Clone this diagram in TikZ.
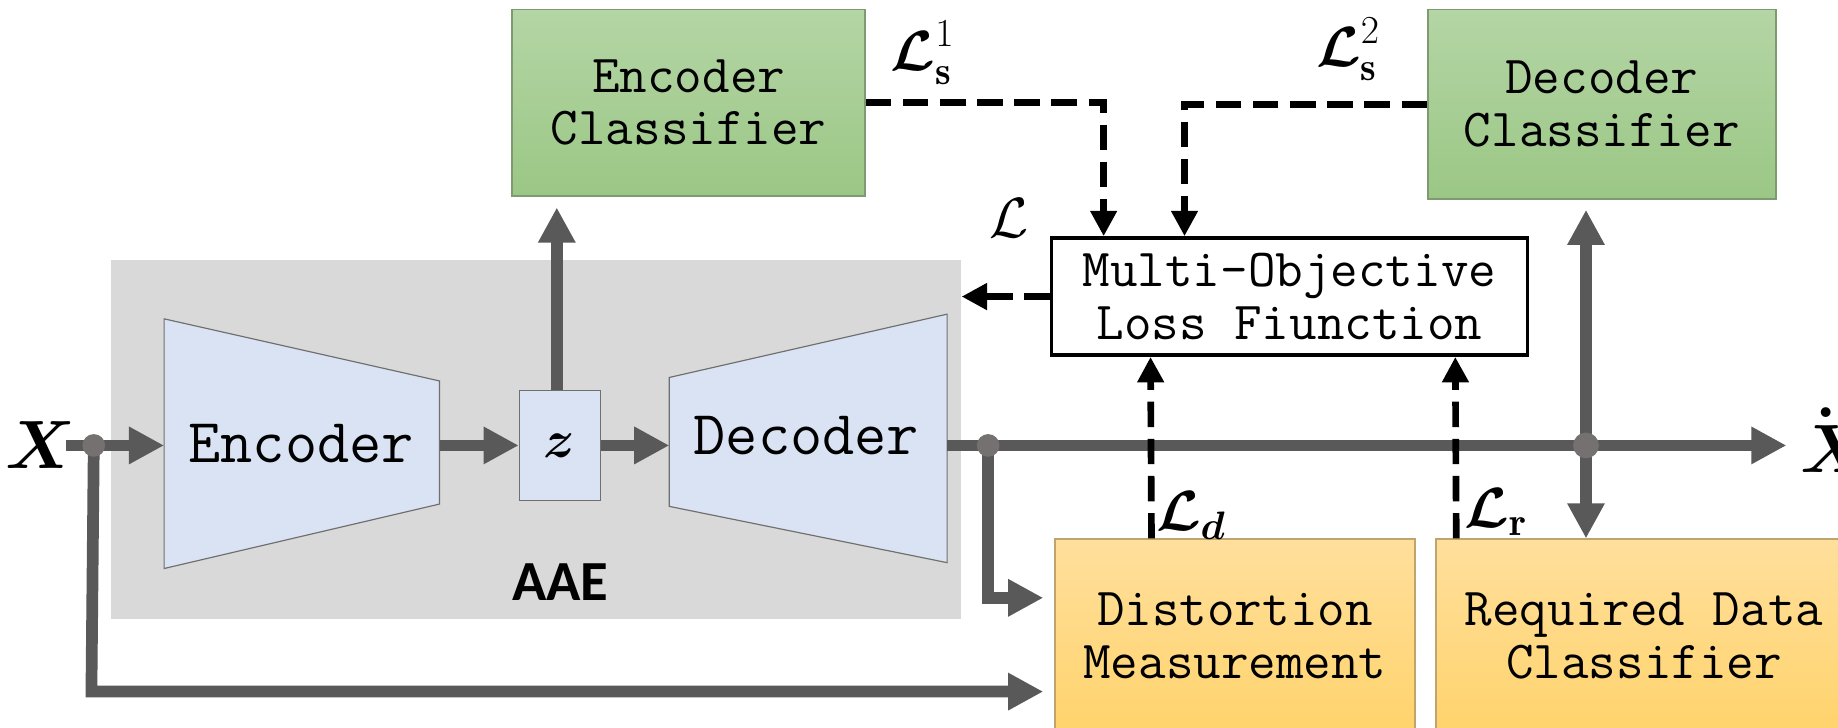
\RequirePackage{fix-cm}
\documentclass[tikz,border=0pt]{standalone}
\usepackage{amsmath,amssymb,bm}
\usepackage{fontspec}
\newfontfamily\aaefont{Carlito}
\usetikzlibrary{arrows.meta,calc}

\definecolor{bggray}{HTML}{D9D9D9}
\definecolor{flowgray}{HTML}{595959}
\definecolor{dotgray}{HTML}{767171}
\definecolor{trapfill}{HTML}{DAE3F3}
\definecolor{trapline}{HTML}{6F6F6F}
\definecolor{greentop}{HTML}{B4D5A5}
\definecolor{greenbot}{HTML}{9BC785}
\definecolor{greenline}{HTML}{7F9A72}
\definecolor{orangetop}{HTML}{FFDF9C}
\definecolor{orangebot}{HTML}{FFD36C}
\definecolor{orangeline}{HTML}{C0A46C}

\tikzset{
  boxtext/.style={font=\fontsize{27.4}{27}\selectfont\ttfamily, align=center, inner sep=0pt},
  greenbox/.style={boxtext, draw=greenline, line width=0.8pt, top color=greentop, bottom color=greenbot},
  orangebox/.style={boxtext, draw=orangeline, line width=0.8pt, top color=orangetop, bottom color=orangebot},
  trap/.style={draw=trapline, line width=0.6pt, fill=trapfill},
  flow/.style={draw=flowgray, line width=6pt, -{Triangle[length=18pt,width=18pt]}},
  loss/.style={draw=black, line width=3.4pt, dash pattern=on 13pt off 6pt, -{Triangle[length=13pt,width=13pt]}},
  mathlbl/.style={font=\fontsize{29}{30}\selectfont, inner sep=0pt},
  joint/.style={fill=dotgray}
}

\begin{document}
\begin{tikzpicture}[x=0.6pt,y=-0.6pt]
\useasboundingbox (0,0) rectangle (1568,621);
\clip (0,0) rectangle (1568,621);
\fill[white] (0,0) rectangle (1568,621);

% autoencoder background
\node[fill=bggray, inner sep=0pt, minimum width=435pt, minimum height=183.6pt] (aae) at (457.5,375) {};
\node[font=\fontsize{29}{30}\selectfont\aaefont\bfseries, inner sep=0pt] (aaelbl) at (478,497) {AAE};

% encoder and decoder
\draw[trap] (140,272) -- (375,325) -- (375,430) -- (140,485) -- cycle;
\draw[trap] (571,322) -- (808,268) -- (808,480) -- (571,432) -- cycle;
\node[font=\fontsize{32}{30}\selectfont\ttfamily, inner sep=0pt] (enc) at (257,378) {Encoder};
\node[font=\fontsize{32}{30}\selectfont\ttfamily, inner sep=0pt] (dec) at (688,372) {Decoder};
\coordinate (encIn) at (140,380);
\coordinate (encOut) at (375,380);
\coordinate (decIn) at (571,380);
\coordinate (decOut) at (808,380);

% latent code
\node[trap, minimum width=41.4pt, minimum height=56.4pt, inner sep=0pt,
      font=\fontsize{27}{28}\selectfont] (z) at (477.5,380) {$\boldsymbol{z}$};

% classifiers and measurement blocks
\node[greenbox, minimum width=180.6pt, minimum height=95.4pt] (encC) at (587.5,87.5) {Encoder\\Classifier};
\node[greenbox, minimum width=178.2pt, minimum height=97.2pt] (decC) at (1366.5,89) {Decoder\\Classifier};
\node[orangebox, minimum width=184.2pt, minimum height=99pt] (dist) at (1053.5,542.5) {Distortion\\Measurement};
\node[orangebox, minimum width=213pt, minimum height=99pt] (req) at (1402.5,542.5) {Required Data\\Classifier};
\node[boxtext, draw=black, fill=white, line width=1.8pt, minimum width=243.6pt, minimum height=60pt] (multi) at (1100,253) {Multi-Objective\\Loss Fiunction};

% input and output symbols (the output carries a dot accent over X)
\node[font=\fontsize{35}{36}\selectfont, inner sep=0pt] (X) at (35,380) {$\boldsymbol{X}$};
\node[font=\fontsize{35}{36}\selectfont, inner sep=0pt, anchor=base west] (Xo) at (1536,403)
  {\rlap{$\boldsymbol{X}$}\kern7.5pt\raisebox{28pt}{\bfseries .}};

% data flow
\coordinate (xin) at (80,380);
\coordinate (br) at (843,380);
\coordinate (jn) at (1353,380);
\coordinate (outEnd) at (1524,380);
\draw[flow] (56,380) -- (encIn);
\draw[flow] (xin) -- (78,590) -- (890,590);
\draw[flow] (encOut) -- (z.west);
\draw[flow] (z.east) -- (decIn);
\draw[flow] (decOut) -- (outEnd);
\draw[flow] (br) |- (890,510);
\draw[flow, shorten >=6pt] (z.north -| 475,0) -- (475,167);
\draw[flow, shorten >=5pt] (jn) -- (jn |- decC.south);
\draw[flow] (jn) -- (jn |- req.north);

\fill[joint] (xin) circle (5.8pt);
\fill[joint] (br) circle (5.8pt);
\fill[joint] (jn) circle (6.6pt);

% loss signals
\draw[loss] (encC.east) -| ($(multi.north west)+(46,0)$);
\draw[loss] (decC.west) -| ($(multi.north west)+(115,0)$);
\draw[loss] (multi.west) -- (multi.west -| aae.east);
\draw[loss] ($(dist.north west)+(83,0)$) -- ($(multi.south west)+(86,0)$);
\draw[loss] ($(req.north west)+(18,0)$) -- ($(multi.south west)+(346,0)$);

\node[mathlbl] (ls1) at (787,45) {$\boldsymbol{\mathcal{L}}_{\mathbf{s}}^{1}$};
\node[mathlbl] (ls2) at (1150,42) {$\boldsymbol{\mathcal{L}}_{\mathbf{s}}^{2}$};
\node[mathlbl] (ltot) at (861,186) {$\mathcal{L}$};
\node[mathlbl] (ld) at (1016,440) {$\boldsymbol{\mathcal{L}}_{\boldsymbol{d}}$};
\node[mathlbl] (lr) at (1276,437) {$\boldsymbol{\mathcal{L}}_{\mathbf{r}}$};
\end{tikzpicture}
\end{document}
